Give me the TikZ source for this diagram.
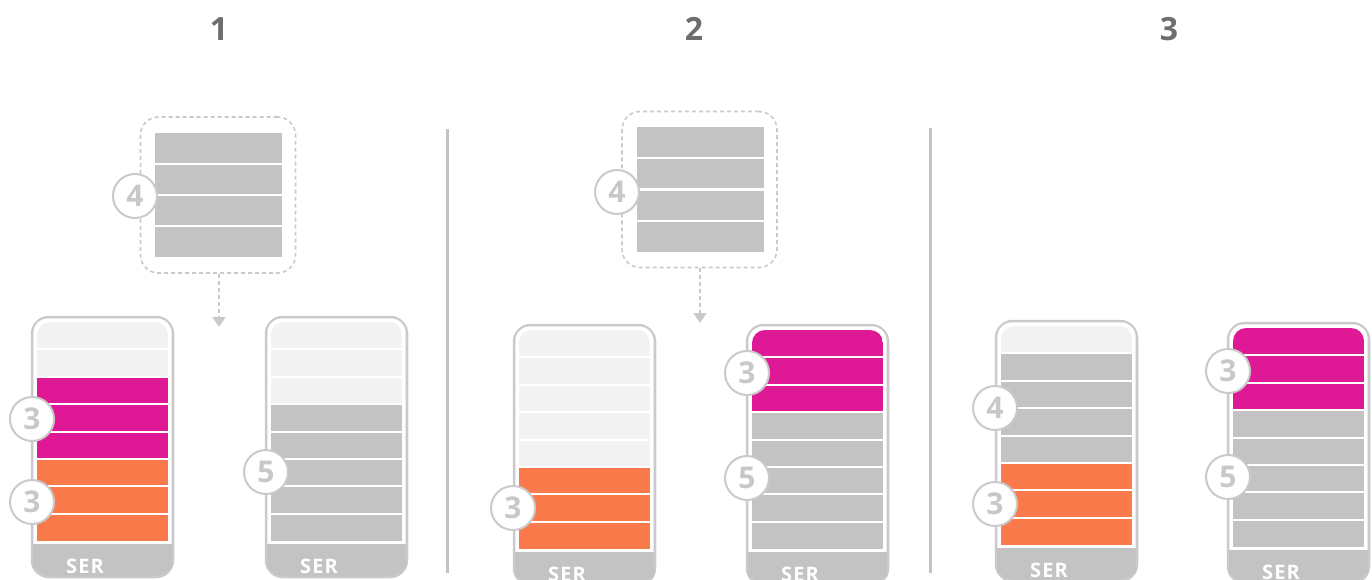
\documentclass[tikz,border=0pt]{standalone}
\usepackage{fontspec}
\setmainfont{Open Sans}
\newfontfamily\serfont[LetterSpace=6]{Open Sans}
\usetikzlibrary{arrows.meta}
\definecolor{lightslot}{HTML}{F2F2F2}
\definecolor{grayslot}{HTML}{C3C3C3}
\definecolor{magslot}{HTML}{DF1995}
\definecolor{orslot}{HTML}{FA7A4B}
\definecolor{bordergray}{HTML}{CACACA}
\definecolor{titlegray}{HTML}{6E6E6E}
\definecolor{numgray}{HTML}{C8C8C8}
\definecolor{sepgray}{HTML}{C2C2C2}
\tikzset{
  badge/.style={circle, draw=bordergray, line width=2pt, fill=white, minimum size=44pt, inner sep=0pt, text=numgray, font=\bfseries\fontsize{30}{30}\selectfont},
  titletext/.style={text=titlegray, font=\fontsize{32}{32}\selectfont\bfseries},
  sertext/.style={text=white, font=\serfont\bfseries\fontsize{20}{20}\selectfont},
  pendbox/.style={draw=bordergray, line width=1.6pt, dash pattern=on 4pt off 3pt, rounded corners=18pt, minimum width=155pt, minimum height=156pt, inner sep=0pt},
  pendarrow/.style={draw=bordergray, line width=1.6pt, dash pattern=on 4pt off 3pt, -{Triangle[width=13pt,length=10pt]}},
  sepline/.style={draw=sepgray, line width=2.8pt},
  shell/.style={draw=bordergray, line width=2.5pt, fill=grayslot, rounded corners=17pt},
  L/.style={fill=lightslot}, G/.style={fill=grayslot}, M/.style={fill=magslot}, O/.style={fill=orslot}
}
% #1 name, #2 x left, #3 y top, #4 list of 8 slot styles
\newcommand\drawserver[4]{%
  \draw[shell] (#2,#3) rectangle ({#2+141},{#3+260});
  \fill[white, rounded corners=15pt] ({#2+1.3},{#3+1.3}) rectangle ({#2+139.7},{#3+250});
  \fill[grayslot] ({#2+1.3},{#3+227}) rectangle ({#2+139.7},{#3+252});
  \begin{scope}
    \clip[rounded corners=13pt] ({#2+5},{#3+5}) rectangle ({#2+136},{#3+260});
    \foreach \c [count=\i] in {#4} {
      \path[\c] ({#2+5},{#3+5+(\i-1)*27.4}) rectangle ({#2+136},{#3+5+\i*27.4});
    }
  \end{scope}
  \foreach \i in {1,...,7} {
    \draw[white, line width=2pt] ({#2+5},{#3+5+\i*27.4}) -- ({#2+136},{#3+5+\i*27.4});
  }
  \coordinate (#1) at ({#2+70.5},{#3+130});
  \node[sertext] (#1ser) at ({#2+53},{#3+249}) {SER};
}
% pending group: #1 name, #2 cx, #3 cy
\newcommand\drawpending[3]{%
  \node[pendbox] (#1) at (#2,#3) {};
  \foreach \i in {0,...,3} {
    \fill[grayslot] ({#2-63},{#3-62+\i*31}) rectangle ({#2+64},{#3-62+(\i+1)*31});
  }
  \foreach \i in {1,...,3} {
    \draw[white, line width=2pt] ({#2-63},{#3-62+\i*31}) -- ({#2+64},{#3-62+\i*31});
  }
}
\begin{document}
\begin{tikzpicture}[x=1pt,y=-1pt]
\useasboundingbox (0,0) rectangle (1372,580);
\clip (0,0) rectangle (1372,580);
\fill[white] (0,0) rectangle (1372,580);

% titles
\node[titletext] (t1) at (219,29) {1};
\node[titletext] (t2) at (694,29) {2};
\node[titletext] (t3) at (1169,29) {3};

% separators
\coordinate (s1a) at (447.5,129); \coordinate (s1b) at (447.5,573);
\coordinate (s2a) at (930.5,128); \coordinate (s2b) at (930.5,573);
\draw[sepline] (s1a) -- (s1b);
\draw[sepline] (s2a) -- (s2b);

% panel 1
\drawpending{p1}{218}{195}
\node[badge] (b1p) at (135,196) {4};
\coordinate (a1) at (219,327);
\draw[pendarrow] (p1.south -| a1) -- (a1);
\drawserver{s1l}{32}{317}{L,L,M,M,M,O,O,O}
\node[badge] (b1a) at (32,419) {3};
\node[badge] (b1b) at (32,502) {3};
\drawserver{s1r}{266}{317}{L,L,L,G,G,G,G,G}
\node[badge] (b1c) at (266,472) {5};

% panel 2
\drawpending{p2}{699.5}{189.5}
\node[badge] (b2p) at (617,192) {4};
\coordinate (a2) at (700,323);
\draw[pendarrow] (p2.south -| a2) -- (a2);
\drawserver{s2l}{514}{325}{L,L,L,L,L,O,O,O}
\node[badge] (b2a) at (513,508) {3};
\drawserver{s2r}{747}{325}{M,M,M,G,G,G,G,G}
\node[badge] (b2b) at (747,373) {3};
\node[badge] (b2c) at (747,478) {5};

% panel 3
\drawserver{s3l}{996}{321}{L,G,G,G,G,O,O,O}
\node[badge] (b3a) at (995,408) {4};
\node[badge] (b3b) at (995,504) {3};
\drawserver{s3r}{1228}{323}{M,M,M,G,G,G,G,G}
\node[badge] (b3c) at (1228,371) {3};
\node[badge] (b3d) at (1228,477) {5};
\end{tikzpicture}
\end{document}
